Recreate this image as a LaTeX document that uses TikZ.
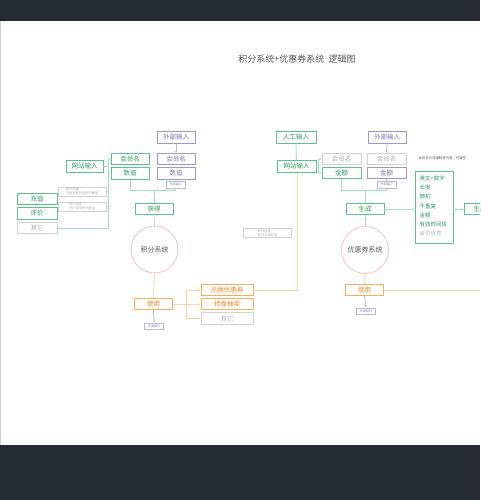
\documentclass[tikz,border=0pt]{standalone}
\usepackage{fontspec}
\setmainfont{Noto Sans CJK SC}
\usetikzlibrary{arrows.meta}
\definecolor{darkbg}{HTML}{252B33}
\definecolor{gline}{HTML}{5CC28A}
\definecolor{gtext}{HTML}{2E9A5E}
\definecolor{glight}{HTML}{A6DDBC}
\definecolor{pline}{HTML}{9F97CC}
\definecolor{ptext}{HTML}{7F76B5}
\definecolor{plight}{HTML}{BDB7DE}
\definecolor{xline}{HTML}{D2D2D2}
\definecolor{xtext}{HTML}{B0B0B0}
\definecolor{oline}{HTML}{F8AE5C}
\definecolor{otext}{HTML}{F08A26}
\definecolor{olight}{HTML}{FBD2A6}
\definecolor{pink}{HTML}{F3C2C2}
\definecolor{titlec}{HTML}{555555}
\tikzset{
  boxbase/.style={draw, line width=0.8pt, fill=white, inner sep=0pt, minimum width=38pt, minimum height=11.5pt, font=\fontsize{6.5}{7}\selectfont},
  gbox/.style={boxbase, draw=gline, text=gtext},
  pbox/.style={boxbase, draw=pline, text=ptext},
  xbox/.style={boxbase, draw=xline, text=xtext},
  obox/.style={boxbase, draw=oline, text=otext},
  apibox/.style={draw=plight, line width=0.5pt, fill=white, inner sep=0pt, minimum width=19pt, minimum height=6.5pt, text=ptext, font=\fontsize{3}{3.5}\selectfont},
  notebox/.style={draw=xline, line width=0.5pt, fill=white, inner sep=1pt, minimum width=48pt, align=left, text=xtext, font=\fontsize{3.2}{4}\selectfont},
  syscircle/.style={draw=pink, line width=0.8pt, circle, minimum size=47pt, inner sep=0pt, text=titlec, font=\fontsize{7}{8}\selectfont},
  gconn/.style={draw=glight, line width=0.8pt},
  pconn/.style={draw=plight, line width=0.8pt},
  oconn/.style={draw=olight, line width=0.8pt},
  tip/.style={-{Stealth[length=2pt,width=2pt]}}
}
\begin{document}
\begin{tikzpicture}[x=1pt,y=-1pt]
\useasboundingbox (0,0) rectangle (480,500);
\clip (0,0) rectangle (480,500);
\fill[darkbg] (0,0) rectangle (480,21);
\fill[darkbg] (0,445) rectangle (480,500);
\draw[xline, line width=1.2pt] (0.6,21) -- (0.6,445);

\node[text=titlec, font=\fontsize{9}{10}\selectfont] (title) at (297,59) {积分系统+优惠券系统\ \ 逻辑图};

% ---------- left: points system ----------
\node[pbox] (lext) at (176,137.5) {外部输入};
\node[gbox] (lname) at (130,159) {会员名};
\node[pbox] (lnamep) at (176,159) {会员名};
\node[gbox, minimum width=37pt] (lweb) at (84.5,166.5) {网站输入};
\node[gbox] (lval) at (130,173.5) {数值};
\node[pbox] (lvalp) at (176,173.5) {数值};
\node[apibox] (lapi) at (175.5,184.5) {外部接口};

\node[gbox, minimum width=40pt] (chong) at (37,199) {充值};
\node[gbox, minimum width=40pt] (ping) at (37,213.5) {评价};
\node[xbox, minimum width=40pt] (qita) at (37,228) {其它};
\node[notebox] (note1) at (82,191.5) {积分设置\\充值金额对应积分数值};
\node[notebox] (note2) at (82,206.5) {积分设置\\评价增加积分数值};

\node[gbox] (huode) at (154,209) {获得};
\node[syscircle] (jifen) at (154.5,249.5) {积分系统};
\node[obox] (lshi) at (153.5,304) {使用};
\node[apibox] (lapi2) at (154,326) {外部接口};
\node[obox, minimum width=52pt] (duihuan) at (227,290) {兑换优惠券};
\node[obox, minimum width=52pt] (zhuanpan) at (227,304) {转盘抽奖};
\node[xbox, minimum width=52pt] (lqita) at (227,318.5) {其它};
\node[notebox] (note3) at (267.5,233) {积分设置\\积分兑换数值};

\coordinate (lb) at (108,166.5);
\draw[gconn] (lweb.east) -- (lb);
\draw[gconn] (108,159) -- (108,228);
\draw[gconn, tip] (108,159) -- (lname.west);
\draw[gconn, tip] (108,173.5) -- (lval.west);
\draw[gconn] (qita.east) -- (108,228);
\draw[gconn] (note1.east) -- (108,191.5);
\draw[gconn] (note2.east) -- (108,206.5);
\draw[pconn, tip] (lext.south) -- (lnamep.north);
\draw[pconn] (lvalp.south) -- (lapi.north);
\coordinate (lj) at (154,190);
\draw[gconn] (lval.south) -- (130,190) -- (lapi.south |- lj);
\draw[gconn] (lapi.south) -- (lapi.south |- lj);
\draw[gconn] (lj) -- (huode.north);
\draw[gconn] (huode.south) -- (jifen.north);
\draw[oconn] (jifen.south) -- (lshi.north);
\draw[pconn, tip] (lshi.south) -- (lapi2.north);
\draw[oconn] (lshi.east) -- (186,304);
\draw[oconn] (186,290) -- (186,318.5);
\draw[oconn, tip] (186,290) -- (duihuan.west);
\draw[oconn, tip] (186,304) -- (zhuanpan.west);
\draw[oconn, tip] (186,318.5) -- (lqita.west);

% ---------- right: coupon system ----------
\node[gbox, minimum width=40pt] (rman) at (296,137.5) {人工输入};
\node[pbox] (rext) at (387,137.5) {外部输入};
\node[gbox, minimum width=39pt] (rweb) at (296.5,166.5) {网站输入};
\node[xbox, minimum width=39pt] (rname) at (341.5,159) {会员名};
\node[gbox, minimum width=39pt] (ramt) at (341.5,173) {金额};
\node[xbox, minimum width=39pt] (rnamep) at (386.5,159) {会员名};
\node[pbox, minimum width=39pt] (ramtp) at (386.5,173) {金额};
\node[apibox] (rapi) at (386.5,184.5) {外部接口};
\node[text=titlec, font=\fontsize{3.4}{4}\selectfont, anchor=west] (rnote) at (415,158) {会员名为非强制性内容，可留空};

\node[gbox] (shengcheng) at (365,209) {生成};
\node[draw=gline, line width=0.8pt, fill=white, minimum width=38pt, minimum height=72pt, inner sep=0pt] (attr) at (434,207) {};
\node[gbox, minimum width=32pt] (gen2) at (480,209) {生成};
\node[syscircle] (youhui) at (365,250) {优惠券系统};
\node[obox] (rshi) at (364.5,290) {使用};
\node[apibox] (rapi2) at (366,311) {外部接口};

\foreach \t/\yy in {英文+数字/178,长度/187,随机/196.5,不重复/206,金额/215,有效时间段/224}
  \node[anchor=west, text=gtext, font=\fontsize{5.5}{6}\selectfont, inner sep=0pt] at (419.5,\yy) {\t};
\node[anchor=west, text=xtext, font=\fontsize{5.5}{6}\selectfont, inner sep=0pt] (memberinfo) at (419.5,233.5) {会员信息};

\draw[gconn] (rman.south) -- (rweb.north);
\draw[gconn] (rweb.east) -- (318.5,166.5);
\draw[gconn] (318.5,159) -- (318.5,173);
\draw[gconn, tip] (318.5,159) -- (rname.west);
\draw[gconn, tip] (318.5,173) -- (ramt.west);
\draw[pconn, tip] (rext.south) -- (rnamep.north);
\draw[pconn] (ramtp.south) -- (rapi.north);
\coordinate (rj) at (365,190);
\draw[gconn] (ramt.south) -- (341.5,190) -- (rapi.south |- rj);
\draw[gconn] (rapi.south) -- (rapi.south |- rj);
\draw[gconn] (rj) -- (shengcheng.north);
\draw[gconn, tip] (shengcheng.east) -- (attr.west |- shengcheng.east);
\draw[gconn, tip] (attr.east |- gen2.west) -- (gen2.west);
\draw[gconn] (shengcheng.south) -- (youhui.north);
\draw[oconn] (youhui.south) -- (rshi.north);
\draw[pconn, tip] (rshi.south) -- (rapi2.north);
\coordinate (rend) at (480,290);
\draw[oconn] (rshi.east) -- (rend);

% cross link: 兑换优惠券 -> 网站输入
\coordinate (cr) at (297,290);
\draw[oconn] (duihuan.east) -- (cr) -- (rweb.south -| cr);
\end{tikzpicture}
\end{document}
